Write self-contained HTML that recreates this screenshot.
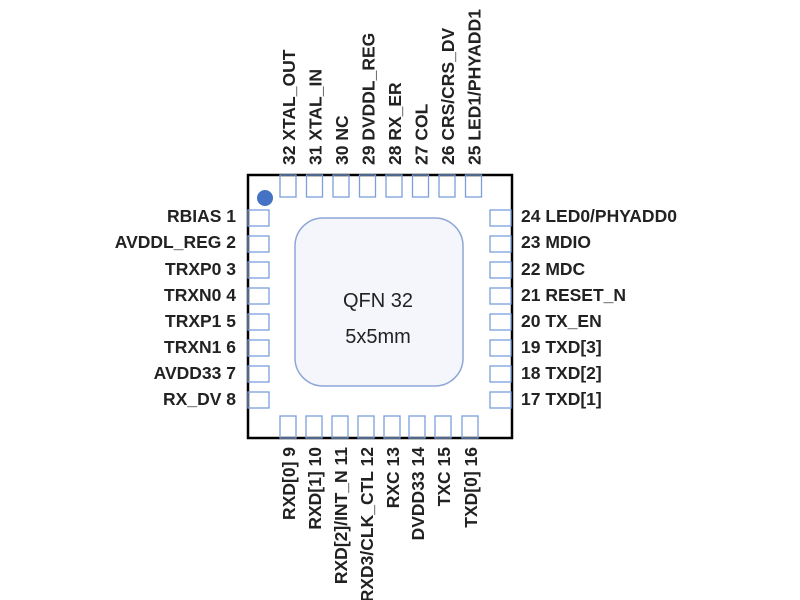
<!DOCTYPE html>
<html><head><style>body{margin:0;background:#fff}svg{display:block}text{font-family:"Liberation Sans",sans-serif;font-weight:bold;font-size:17.5px;fill:#222}</style></head><body>
<svg width="800" height="600" viewBox="0 0 800 600">
<rect x="248" y="175" width="264" height="263" fill="#fff" stroke="#000" stroke-width="2.5"/>
<rect x="295" y="218" width="168" height="168" rx="28" fill="#f4f6fb" stroke="#8ea6d6" stroke-width="1.5"/>
<text x="378" y="307" text-anchor="middle" style="font-weight:normal;font-size:20px">QFN 32</text>
<text x="378" y="343" text-anchor="middle" style="font-weight:normal;font-size:20px">5x5mm</text>
<circle cx="265" cy="198" r="8" fill="#4472c4"/>
<g fill="none" stroke="#7b9fdb" stroke-width="1.3">
<rect x="280" y="175" width="16" height="22"/><rect x="306.5" y="175" width="16" height="22"/><rect x="333" y="175" width="16" height="22"/><rect x="359.5" y="175" width="16" height="22"/><rect x="386" y="175" width="16" height="22"/><rect x="412.5" y="175" width="16" height="22"/><rect x="439" y="175" width="16" height="22"/><rect x="465.5" y="175" width="16" height="22"/>
<rect x="280" y="416" width="16" height="22"/><rect x="306" y="416" width="16" height="22"/><rect x="332" y="416" width="16" height="22"/><rect x="358" y="416" width="16" height="22"/><rect x="384" y="416" width="16" height="22"/><rect x="409" y="416" width="16" height="22"/><rect x="435" y="416" width="16" height="22"/><rect x="462" y="416" width="16" height="22"/>
<rect x="248" y="210" width="21" height="16"/><rect x="248" y="236" width="21" height="16"/><rect x="248" y="262" width="21" height="16"/><rect x="248" y="288" width="21" height="16"/><rect x="248" y="314" width="21" height="16"/><rect x="248" y="340" width="21" height="16"/><rect x="248" y="366" width="21" height="16"/><rect x="248" y="392" width="21" height="16"/>
<rect x="490" y="210" width="21" height="16"/><rect x="490" y="236" width="21" height="16"/><rect x="490" y="262" width="21" height="16"/><rect x="490" y="288" width="21" height="16"/><rect x="490" y="314" width="21" height="16"/><rect x="490" y="340" width="21" height="16"/><rect x="490" y="366" width="21" height="16"/><rect x="490" y="392" width="21" height="16"/>
</g>
<g text-anchor="end">
<text x="236" y="222">RBIAS 1</text><text x="236" y="248">AVDDL_REG 2</text><text x="236" y="275">TRXP0 3</text><text x="236" y="301">TRXN0 4</text><text x="236" y="327">TRXP1 5</text><text x="236" y="353">TRXN1 6</text><text x="236" y="379">AVDD33 7</text><text x="236" y="405">RX_DV 8</text>
</g>
<g>
<text x="521" y="222">24 LED0/PHYADD0</text><text x="521" y="248">23 MDIO</text><text x="521" y="275">22 MDC</text><text x="521" y="301">21 RESET_N</text><text x="521" y="327">20 TX_EN</text><text x="521" y="353">19 TXD[3]</text><text x="521" y="379">18 TXD[2]</text><text x="521" y="405">17 TXD[1]</text>
</g>
<g>
<text transform="translate(295,165) rotate(-90)">32 XTAL_OUT</text>
<text transform="translate(321.5,165) rotate(-90)">31 XTAL_IN</text>
<text transform="translate(348,165) rotate(-90)">30 NC</text>
<text transform="translate(374.5,165) rotate(-90)">29 DVDDL_REG</text>
<text transform="translate(401,165) rotate(-90)">28 RX_ER</text>
<text transform="translate(427.5,165) rotate(-90)">27 COL</text>
<text transform="translate(454,165) rotate(-90)">26 CRS/CRS_DV</text>
<text transform="translate(480.5,165) rotate(-90)">25 LED1/PHYADD1</text>
</g>
<g text-anchor="end">
<text transform="translate(295,447) rotate(-90)">RXD[0]  9</text>
<text transform="translate(321,447) rotate(-90)">RXD[1]  10</text>
<text transform="translate(347,447) rotate(-90)">RXD[2]/INT_N  11</text>
<text transform="translate(373,447) rotate(-90)">RXD3/CLK_CTL 12</text>
<text transform="translate(399,447) rotate(-90)">RXC  13</text>
<text transform="translate(424,447) rotate(-90)">DVDD33  14</text>
<text transform="translate(450,447) rotate(-90)">TXC  15</text>
<text transform="translate(477,447) rotate(-90)">TXD[0]  16</text>
</g>
</svg>
</body></html>
